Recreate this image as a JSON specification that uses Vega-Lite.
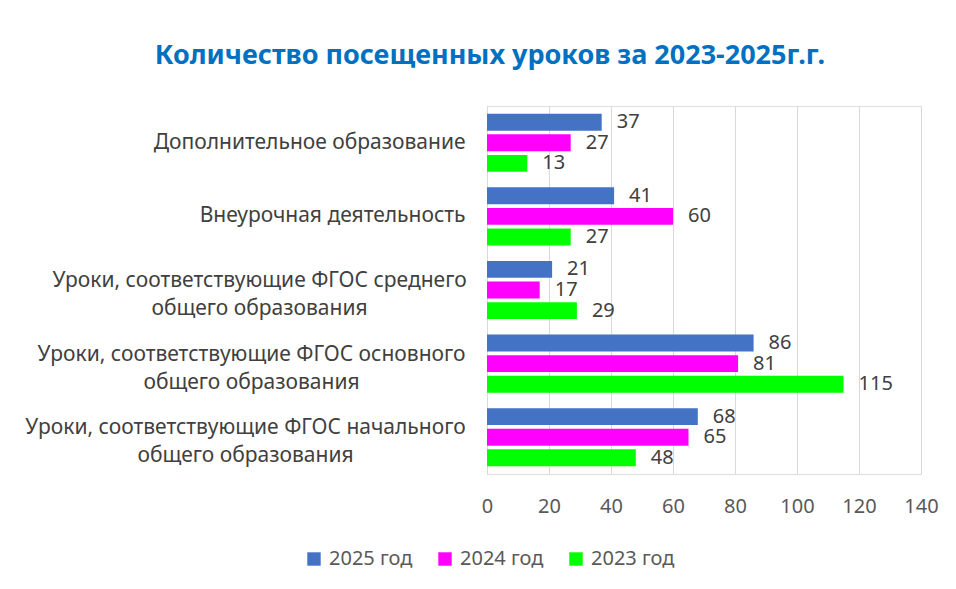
{
  "$schema": "https://vega.github.io/schema/vega-lite/v6.json",
  "width": 434,
  "height": 368,
  "autosize": {"type": "none"},
  "padding": {"left": 487, "top": 106, "right": 35, "bottom": 115},
  "background": "white",
  "title": {
    "text": "Количество посещенных уроков за 2023-2025г.г.",
    "color": "#0070C0",
    "fontSize": 27,
    "font": "Noto Sans",
    "fontWeight": "bold",
    "anchor": "middle",
    "dx": -214,
    "offset": 36
  },
  "data": {
    "values": [
      {"category": "Дополнительное образование", "year": "2025 год", "value": 37},
      {"category": "Дополнительное образование", "year": "2024 год", "value": 27},
      {"category": "Дополнительное образование", "year": "2023 год", "value": 13},
      {"category": "Внеурочная деятельность", "year": "2025 год", "value": 41},
      {"category": "Внеурочная деятельность", "year": "2024 год", "value": 60},
      {"category": "Внеурочная деятельность", "year": "2023 год", "value": 27},
      {"category": "Уроки, соответствующие ФГОС среднего|общего образования", "year": "2025 год", "value": 21},
      {"category": "Уроки, соответствующие ФГОС среднего|общего образования", "year": "2024 год", "value": 17},
      {"category": "Уроки, соответствующие ФГОС среднего|общего образования", "year": "2023 год", "value": 29},
      {"category": "Уроки, соответствующие ФГОС основного|общего образования", "year": "2025 год", "value": 86},
      {"category": "Уроки, соответствующие ФГОС основного|общего образования", "year": "2024 год", "value": 81},
      {"category": "Уроки, соответствующие ФГОС основного|общего образования", "year": "2023 год", "value": 115},
      {"category": "Уроки, соответствующие ФГОС начального|общего образования", "year": "2025 год", "value": 68},
      {"category": "Уроки, соответствующие ФГОС начального|общего образования", "year": "2024 год", "value": 65},
      {"category": "Уроки, соответствующие ФГОС начального|общего образования", "year": "2023 год", "value": 48}
    ]
  },
  "encoding": {
    "y": {
      "field": "category",
      "type": "nominal",
      "sort": null,
      "scale": {"paddingInner": 0.21, "paddingOuter": 0.105},
      "axis": {
        "title": null,
        "labelExpr": "split(datum.label, '|')",
        "labelFont": "Noto Sans",
        "labelFontSize": 21,
        "labelColor": "#404040",
        "labelLineHeight": 28,
        "labelLimit": 600,
        "labelAlign": {"condition": {"test": "indexof(datum.label, '|') >= 0", "value": "center"}, "value": "right"},
        "labelPadding": {
          "condition": [
            {"test": "indexof(datum.label, 'среднего') >= 0", "value": 228},
            {"test": "indexof(datum.label, 'основного') >= 0", "value": 236},
            {"test": "indexof(datum.label, 'начального') >= 0", "value": 242}
          ],
          "value": 22
        },
        "labelOffset": {"condition": {"test": "indexof(datum.label, '|') >= 0", "value": -9}, "value": 0},
        "ticks": false,
        "domain": true,
        "domainColor": "#d9d9d9",
        "grid": false
      }
    },
    "yOffset": {
      "field": "year",
      "type": "nominal",
      "sort": ["2025 год", "2024 год", "2023 год"],
      "scale": {"paddingInner": 0.18, "paddingOuter": 0}
    },
    "x": {
      "field": "value",
      "type": "quantitative",
      "scale": {"domain": [0, 140], "nice": false},
      "axis": {
        "title": null,
        "values": [0, 20, 40, 60, 80, 100, 120, 140],
        "grid": true,
        "gridColor": "#d9d9d9",
        "domain": false,
        "ticks": false,
        "labelFlush": false,
        "labelFont": "Noto Sans",
        "labelFontSize": 20,
        "labelColor": "#595959",
        "labelPadding": 22
      }
    }
  },
  "layer": [
    {
      "mark": {"type": "bar"},
      "encoding": {
        "color": {
          "field": "year",
          "type": "nominal",
          "scale": {"domain": ["2025 год", "2024 год", "2023 год"], "range": ["#4472C4", "#FF00FF", "#00FF00"]},
          "legend": {
            "title": null,
            "orient": "none",
            "direction": "horizontal",
            "legendX": -183,
            "legendY": 443,
            "symbolType": "square",
            "symbolSize": 180,
            "symbolStrokeWidth": 0,
            "labelFont": "Noto Sans",
            "labelFontSize": 20,
            "labelColor": "#595959",
            "columnPadding": 22,
            "labelOffset": 5
          }
        }
      }
    },
    {
      "mark": {"type": "text", "align": "left", "baseline": "middle", "dx": 15, "font": "Noto Sans", "fontSize": 20, "color": "#404040"},
      "encoding": {
        "text": {"field": "value", "type": "quantitative"}
      }
    }
  ]
}
